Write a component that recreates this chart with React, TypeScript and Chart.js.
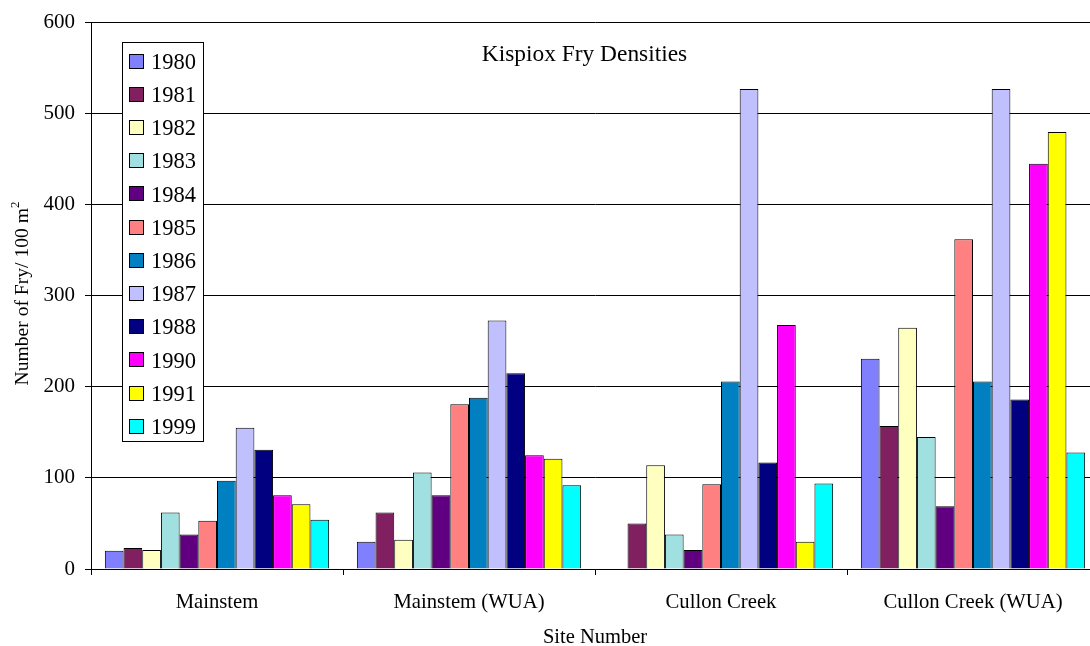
import React, { useEffect, useRef } from "react";
import { Chart, registerables } from "chart.js";

Chart.register(...registerables);

const categories = ["Mainstem", "Mainstem (WUA)", "Cullon Creek", "Cullon Creek (WUA)"];
const years = ["1980", "1981", "1982", "1983", "1984", "1985", "1986", "1987", "1988", "1990", "1991", "1999"];

const y1980 = [20, 30, null, 231];
const y1981 = [23, 62, 50, 157];
const y1982 = [21, 32, 114, 265];
const y1983 = [62, 106, 38, 145];
const y1984 = [38, 81, 21, 69];
const y1985 = [53, 181, 93, 362];
const y1986 = [97, 188, 206, 206];
const y1987 = [155, 273, 527, 527];
const y1988 = [131, 215, 117, 186];
const y1990 = [81, 125, 268, 445];
const y1991 = [71, 121, 30, 480];
const y1999 = [54, 92, 94, 128];

const seriesValues = [y1980, y1981, y1982, y1983, y1984, y1985, y1986, y1987, y1988, y1990, y1991, y1999];
const colors = [
  "#8080FF", "#802060", "#FFFFC0", "#A0E0E0", "#600080", "#FF8080",
  "#0080C0", "#C0C0FF", "#000080", "#FF00FF", "#FFFF00", "#00FFFF",
];
const yTicks = [0, 100, 200, 300, 400, 500, 600];

const chartTitle = "Kispiox Fry Densities";
const xTitle = "Site Number";
const yTitle = "Number of Fry/ 100 m";
const yTitleSup = "2";

const FONT = '"Liberation Serif", "Times New Roman", serif';

const decorPlugin = {
  id: "decor",
  afterDraw(chart: any) {
    const ctx = chart.ctx;
    const ca = chart.chartArea;
    ctx.save();
    // Title
    ctx.fillStyle = "#000";
    ctx.font = `23.4px ${FONT}`;
    ctx.textAlign = "center";
    ctx.textBaseline = "alphabetic";
    ctx.fillText(chartTitle, 584.5, 61);

    // X title
    ctx.font = `20.5px ${FONT}`;
    ctx.fillText(xTitle, (ca.left + ca.right) / 2, 643.3);

    // Y title (rotated) with superscript
    ctx.font = `19.6px ${FONT}`;
    const mainW = ctx.measureText(yTitle).width;
    ctx.font = `13px ${FONT}`;
    const supW = ctx.measureText(yTitleSup).width;
    const total = mainW + supW;
    ctx.translate(28.3, 293.5);
    ctx.rotate(-Math.PI / 2);
    ctx.textAlign = "left";
    ctx.font = `19.6px ${FONT}`;
    ctx.fillText(yTitle, -total / 2, 0);
    ctx.font = `13px ${FONT}`;
    ctx.fillText(yTitleSup, -total / 2 + mainW, -9);
    ctx.setTransform(1, 0, 0, 1, 0, 0);

    // Legend
    const lx = 122.5, ly = 42.5, lw = 81, lh = 399;
    ctx.fillStyle = "#fff";
    ctx.fillRect(lx, ly, lw, lh);
    ctx.strokeStyle = "#000";
    ctx.lineWidth = 1;
    ctx.strokeRect(lx, ly, lw, lh);
    ctx.font = `22.5px ${FONT}`;
    ctx.textAlign = "left";
    ctx.textBaseline = "alphabetic";
    chart.data.datasets.forEach((ds: any, i: number) => {
      const cy = 61 + i * 33.2;
      ctx.fillStyle = ds.backgroundColor;
      ctx.fillRect(129, Math.round(cy - 7.5), 15, 15);
      ctx.strokeStyle = "#000";
      ctx.strokeRect(129.5, Math.round(cy - 7.5) + 0.5, 14, 14);
      ctx.fillStyle = "#000";
      ctx.fillText(ds.label, 151, cy + 7.7);
    });
    ctx.restore();
  },
};

export default function App() {
  const ref = useRef<HTMLCanvasElement | null>(null);
  useEffect(() => {
    if (!ref.current) return;
    const chart = new Chart(ref.current, {
      type: "bar",
      data: {
        labels: categories,
        datasets: years.map((y, i) => ({
          label: y,
          data: seriesValues[i],
          backgroundColor: colors[i],
          borderColor: "#000",
          borderWidth: 1,
          categoryPercentage: 0.89,
          barPercentage: 1.0,
        })),
      },
      options: {
        responsive: false,
        animation: false,
        devicePixelRatio: 1,
        layout: { padding: { top: 21, right: 1, left: 0, bottom: 0 } },
        plugins: {
          legend: { display: false },
          title: { display: false },
          tooltip: { enabled: false },
        },
        scales: {
          x: {
            grid: {
              display: true,
              offset: true,
              drawOnChartArea: false,
              drawTicks: true,
              tickLength: 6,
              color: "#000",
            },
            border: { display: true, color: "#000", width: 1 },
            ticks: {
              color: "#000",
              font: { family: FONT, size: 20.7 },
              padding: 15,
              maxRotation: 0,
            },
            afterFit(scale: any) {
              scale.height = 77;
            },
          },
          y: {
            min: 0,
            max: 600,
            afterBuildTicks(scale: any) {
              scale.ticks = yTicks.map((v) => ({ value: v }));
            },
            grid: {
              color: "#000",
              lineWidth: 1,
              drawTicks: true,
              tickLength: 6,
            },
            border: { display: true, color: "#000", width: 1 },
            ticks: {
              color: "#000",
              font: { family: FONT, size: 21 },
              padding: 10,
            },
            afterFit(scale: any) {
              scale.width = 91;
            },
          },
        },
      },
      plugins: [decorPlugin],
    });
    return () => chart.destroy();
  }, []);
  return (
    <div
      style={{
        position: "fixed",
        left: 0,
        top: 0,
        width: 1090,
        height: 646,
        overflow: "hidden",
        background: "#fff",
      }}
    >
      <canvas ref={ref} width={1100} height={646} style={{ display: "block", width: 1100, height: 646 }} />
    </div>
  );
}
